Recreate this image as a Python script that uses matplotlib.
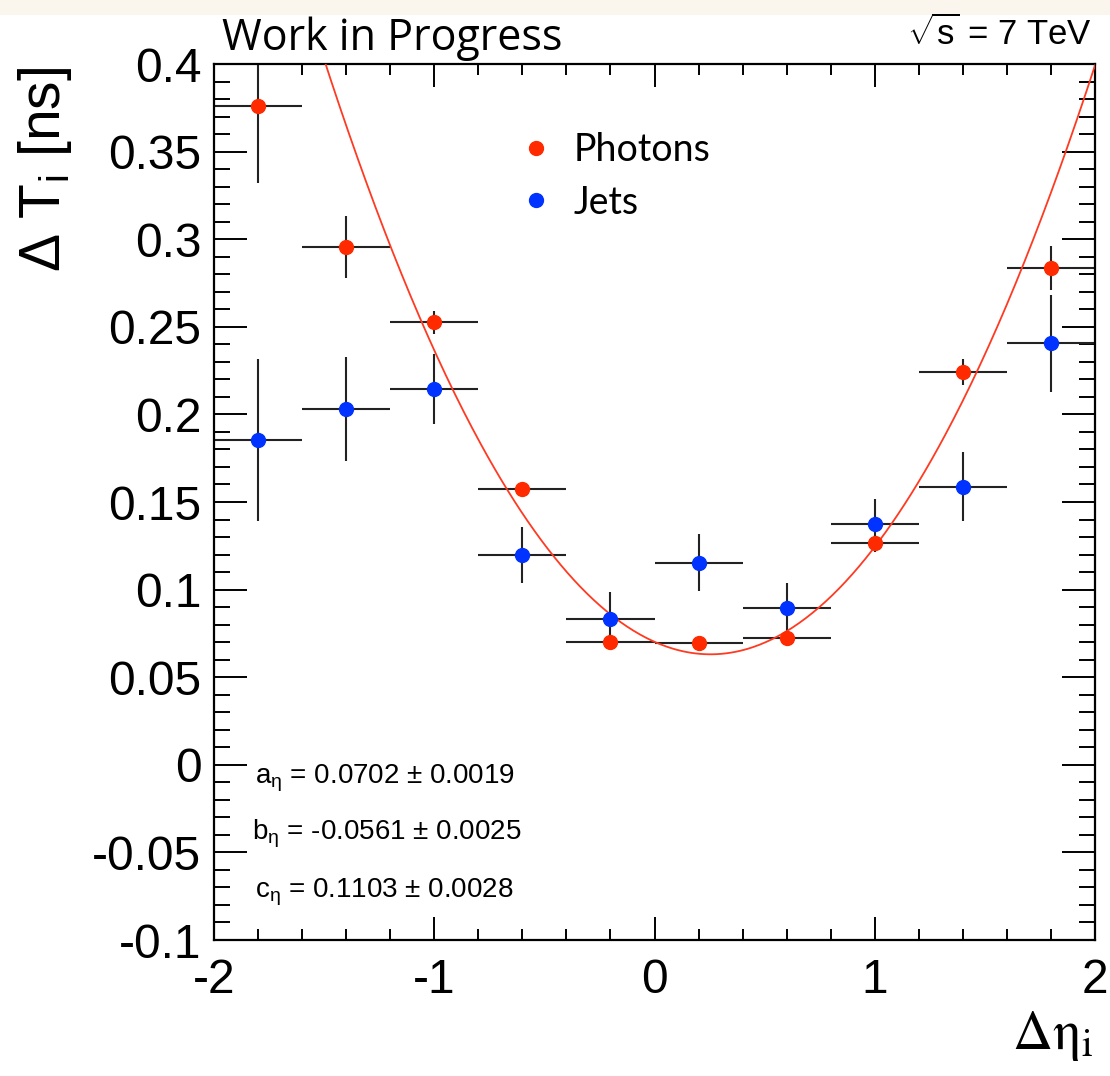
import numpy as np
import matplotlib
matplotlib.use("Agg")
import matplotlib.pyplot as plt
from matplotlib.lines import Line2D
from matplotlib.patches import Rectangle
from matplotlib.ticker import MultipleLocator

# ---------------- data ----------------
eta_centers = [-1.8, -1.4, -1.0, -0.6, -0.2, 0.2, 0.6, 1.0, 1.4, 1.8]
eta_halfwidth = [0.2, 0.2, 0.2, 0.2, 0.2, 0.2, 0.2, 0.2, 0.2, 0.2]

photons_dt = [0.3762, 0.2954, 0.2527, 0.1574, 0.0699, 0.0693, 0.0724, 0.1264, 0.2244, 0.2837]
photons_err = [0.0443, 0.0176, 0.0066, 0.0030, 0.0040, 0.0040, 0.0040, 0.0050, 0.0074, 0.0127]

jets_dt = [0.1854, 0.2031, 0.2145, 0.1197, 0.0832, 0.1154, 0.0897, 0.1373, 0.1587, 0.2406]
jets_err = [0.0464, 0.0298, 0.0200, 0.0160, 0.0155, 0.0163, 0.0143, 0.0145, 0.0197, 0.0277]

fit_a, fit_a_err = 0.0702, 0.0019
fit_b, fit_b_err = -0.0561, 0.0025
fit_c, fit_c_err = 0.1103, 0.0028

x_ticks = [-2, -1, 0, 1, 2]
y_ticks = [-0.1, -0.05, 0, 0.05, 0.1, 0.15, 0.2, 0.25, 0.3, 0.35, 0.4]
y_ticklabels = ["-0.1", "-0.05", "0", "0.05", "0.1", "0.15", "0.2", "0.25", "0.3", "0.35", "0.4"]

# ---------------- style ----------------
plt.rcParams['font.family'] = ['Liberation Sans', 'DejaVu Sans']
plt.rcParams['mathtext.fontset'] = 'custom'
plt.rcParams['mathtext.rm'] = 'Liberation Sans'
plt.rcParams['mathtext.it'] = 'Liberation Sans:italic'
plt.rcParams['mathtext.bf'] = 'Liberation Sans:bold'

RED = '#ff2a00'
BLUE = '#0033ff'
ERRC = '#222222'

W, H = 1110, 1076
fig = plt.figure(figsize=(W / 100, H / 100), dpi=100)
fig.patch.set_facecolor('white')

# faint watermark band at the very top
fig.patches.append(Rectangle((0, 1 - 15 / H), 1, 15 / H, transform=fig.transFigure,
                             facecolor='#faf6ee', edgecolor='none', zorder=0))

L, R, T, B = 214, 1095, 64, 940
ax = fig.add_axes([L / W, 1 - B / H, (R - L) / W, (B - T) / H])

ax.set_xlim(-2, 2)
ax.set_ylim(-0.1, 0.4)

# error bars
ax.errorbar(eta_centers, jets_dt, xerr=eta_halfwidth, yerr=jets_err, fmt='none',
            ecolor=ERRC, elinewidth=1.5, capsize=0, zorder=2, clip_on=True)
ax.errorbar(eta_centers, photons_dt, xerr=eta_halfwidth, yerr=photons_err, fmt='none',
            ecolor=ERRC, elinewidth=1.5, capsize=0, zorder=2, clip_on=True)

# fit curve
xf = np.linspace(-2, 2, 400)
yf = fit_a + fit_b * xf + fit_c * xf ** 2
ax.plot(xf, yf, color='#ff3a22', lw=1.3, zorder=3)

# markers
ax.plot(eta_centers, photons_dt, 'o', color=RED, ms=10, mec=RED, zorder=4, clip_on=False)
ax.plot(eta_centers, jets_dt, 'o', color=BLUE, ms=10, mec=BLUE, zorder=4, clip_on=False)

# ticks (ROOT style)
ax.set_xticks(x_ticks)
ax.set_xticklabels([str(v) for v in x_ticks])
ax.xaxis.set_minor_locator(MultipleLocator(0.2))
ax.set_yticks(y_ticks)
ax.set_yticklabels(y_ticklabels)
ax.yaxis.set_minor_locator(MultipleLocator(0.01))
ax.tick_params(axis='both', which='both', direction='in', top=True, right=True,
               color='black', width=1.4)
ax.tick_params(axis='x', which='major', length=16.5, labelsize=34.5, pad=13)
ax.tick_params(axis='x', which='minor', length=8)
ax.tick_params(axis='y', which='major', length=23.5, labelsize=34.5, pad=9)
ax.tick_params(axis='y', which='minor', length=11.5)
for sp in ax.spines.values():
    sp.set_linewidth(1.6)

# legend
handles = [Line2D([], [], marker='o', ls='none', color=RED, ms=10),
           Line2D([], [], marker='o', ls='none', color=BLUE, ms=10)]
leg = ax.legend(handles, ['Photons', 'Jets'], loc='upper left',
                bbox_to_anchor=((525 - L) / (R - L), 1 - (132 - T) / (B - T)),
                frameon=False, prop={'family': 'Lato', 'size': 27},
                handlelength=0.6, handletextpad=0.7, labelspacing=0.44,
                borderaxespad=0, borderpad=0)

# fit parameter text
def ftxt(x, y, s, **kw):
    fig.text(x / W, 1 - y / H, s, **kw)

ftxt(255, 783, r"a$_{\mathrm{\eta}}$ = %.4f $\pm$ %.4f" % (fit_a, fit_a_err), fontsize=20, va='baseline')
ftxt(252, 840, r"b$_{\mathrm{\eta}}$ = %.4f $\pm$ %.4f" % (fit_b, fit_b_err), fontsize=20, va='baseline')
ftxt(255, 897, r"c$_{\mathrm{\eta}}$ = %.4f $\pm$ %.4f" % (fit_c, fit_c_err), fontsize=20, va='baseline')

# header texts
ftxt(222, 50, "Work in Progress", fontsize=31, family=['Open Sans', 'DejaVu Sans'], va='baseline')
ftxt(1092, 45, r"$\sqrt{\mathrm{s}}$ = 7 TeV", fontsize=25, ha='right', va='baseline')

# axis labels
ftxt(45, 169, r"$\Delta$ T$_{\mathrm{i}}$ [ns]", fontsize=41, rotation=90, ha='center', va='center')
ftxt(1093, 1049, r"$\mathrm{\Delta\eta}_{\mathrm{i}}$", fontsize=40, ha='right', va='baseline',
     math_fontfamily='stix')

fig.savefig('out.png', dpi=100)
